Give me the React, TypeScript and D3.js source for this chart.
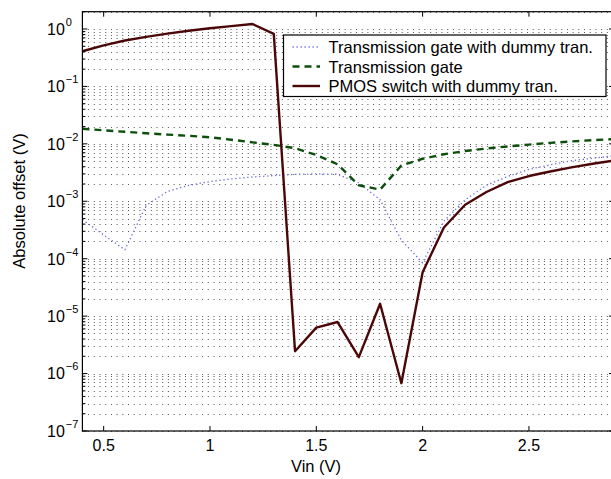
import * as d3 from "d3";

// Vin sweep (V)
const vin = [0.4, 0.5, 0.6, 0.7, 0.8, 0.9, 1.0, 1.1, 1.2, 1.3, 1.4, 1.5, 1.6, 1.7, 1.8, 1.9, 2.0, 2.1, 2.2, 2.3, 2.4, 2.5, 2.6, 2.7, 2.8, 2.9];

// absolute offset (V)
const tgDummy = [4.8e-4, 2.6e-4, 1.43e-4, 8.5e-4, 1.48e-3, 1.9e-3, 2.2e-3, 2.45e-3, 2.65e-3, 2.8e-3, 2.95e-3, 3.0e-3, 2.95e-3, 2.1e-3, 1.06e-3, 2.1e-4, 8.5e-5, 4.5e-4, 1.06e-3, 1.9e-3, 2.7e-3, 3.6e-3, 4.3e-3, 5.1e-3, 5.6e-3, 6.2e-3];
const tg = [0.0183, 0.0172, 0.0162, 0.0153, 0.0145, 0.0138, 0.013, 0.0118, 0.0106, 0.0096, 0.0084, 0.0064, 0.0044, 0.0019, 0.0016, 0.0042, 0.0055, 0.0066, 0.0075, 0.0083, 0.009, 0.0097, 0.0104, 0.011, 0.0116, 0.0121];
const pmos = [0.41, 0.52, 0.63, 0.73, 0.83, 0.93, 1.03, 1.12, 1.22, 0.82, 2.45e-6, 6.3e-6, 7.9e-6, 1.93e-6, 1.64e-5, 6.8e-7, 5.8e-5, 3.5e-4, 8.7e-4, 1.45e-3, 2.15e-3, 2.75e-3, 3.3e-3, 3.9e-3, 4.5e-3, 5.1e-3];

const xTicks = [0.5, 1, 1.5, 2, 2.5];
const yExponents = [-7, -6, -5, -4, -3, -2, -1, 0];
const minorMult = [2, 3, 4, 5, 6, 7, 8, 9];

const seriesNames = ["Transmission gate with dummy tran.", "Transmission gate", "PMOS switch with dummy tran."];

const W = 611;
const H = 479;
const plot = { left: 82.4, right: 614, top: 11.7, bottom: 431 };
const font = "Liberation Sans, Arial, Helvetica, sans-serif";

const styles = [
  { color: "#6a6ad8", width: 1.3, dash: "1.3,2.7" },
  { color: "#0b4f0b", width: 2.4, dash: "7,5" },
  { color: "#4b0707", width: 2.4, dash: null as string | null },
];

export default function App() {
  const x = d3.scaleLinear().domain([0.4, 2.9]).range([plot.left, plot.right]);
  const y = d3.scaleLog().domain([1e-7, 2]).range([plot.bottom, plot.top]);

  const line = d3
    .line<number>()
    .x((_, i) => x(vin[i]))
    .y((d) => y(d));

  const series = [tgDummy, tg, pmos];

  // grid: decades plus the minor values in between
  const gridVals: number[] = [];
  yExponents.forEach((e) => {
    gridVals.push(Math.pow(10, e));
    if (e < 0) minorMult.forEach((m) => gridVals.push(m * Math.pow(10, e)));
  });
  gridVals.push(2);

  const legend = { x: 283.5, y: 35, w: 322.5, h: 61.5 };

  return (
    <div style={{ position: "absolute", left: 0, top: 0 }}>
      <svg width={W} height={H} style={{ display: "block", background: "#fff" }} fontFamily={font}>
        <defs>
          <clipPath id="plotArea">
            <rect x={plot.left} y={plot.top} width={plot.right - plot.left} height={plot.bottom - plot.top} />
          </clipPath>
        </defs>

        {/* grid */}
        <g>
          {gridVals.map((v, i) => (
            <line
              key={i}
              x1={plot.left}
              x2={plot.right}
              y1={Math.round(y(v)) + 0.5}
              y2={Math.round(y(v)) + 0.5}
              stroke="#555"
              strokeWidth={1}
              strokeDasharray="1,4.7"
            />
          ))}
        </g>

        {/* series */}
        <g clipPath="url(#plotArea)">
          {series.map((s, i) => (
            <path
              key={i}
              d={line(s) || ""}
              fill="none"
              stroke={styles[i].color}
              strokeWidth={styles[i].width}
              strokeDasharray={styles[i].dash || undefined}
              strokeLinejoin="round"
            />
          ))}
        </g>

        {/* axes box */}
        <rect
          x={plot.left}
          y={plot.top}
          width={plot.right - plot.left}
          height={plot.bottom - plot.top}
          fill="none"
          stroke="#000"
          strokeWidth={1.2}
        />

        {/* x ticks */}
        {xTicks.map((t) => (
          <g key={t}>
            <line x1={x(t)} x2={x(t)} y1={plot.bottom} y2={plot.bottom - 5} stroke="#000" />
            <line x1={x(t)} x2={x(t)} y1={plot.top} y2={plot.top + 5} stroke="#000" />
            <text x={x(t)} y={451} fontSize={16} textAnchor="middle" fill="#000">
              {t}
            </text>
          </g>
        ))}

        {/* y ticks */}
        {gridVals.map((v, i) => {
          const major = Number.isInteger(Math.log10(v));
          const len = major ? 5 : 3;
          return (
            <g key={i}>
              <line x1={plot.left} x2={plot.left + len} y1={y(v)} y2={y(v)} stroke="#000" />
              <line x1={plot.right} x2={plot.right - len} y1={y(v)} y2={y(v)} stroke="#000" />
            </g>
          );
        })}
        {yExponents.map((e) => (
          <text key={e} x={47} y={y(Math.pow(10, e)) + 5.8} fontSize={16} fill="#000">
            10
            <tspan dy={-9} dx={1} fontSize={11}>
              {e < 0 ? "\u2212" + Math.abs(e) : String(e)}
            </tspan>
          </text>
        ))}

        {/* axis labels */}
        <text x={316} y={472} fontSize={16.5} textAnchor="middle" fill="#000">
          Vin (V)
        </text>
        <text transform="translate(25,201) rotate(-90)" fontSize={16.5} textAnchor="middle" fill="#000">
          Absolute offset (V)
        </text>

        {/* legend */}
        <g>
          <rect x={legend.x} y={legend.y} width={legend.w} height={legend.h} fill="#fff" stroke="#000" strokeWidth={1.2} />
          {seriesNames.map((name, i) => {
            const cy = legend.y + 12 + i * 19.5;
            return (
              <g key={name}>
                <line
                  x1={292.5}
                  x2={320}
                  y1={cy}
                  y2={cy}
                  stroke={styles[i].color}
                  strokeWidth={styles[i].width}
                  strokeDasharray={styles[i].dash || undefined}
                />
                <text x={328.5} y={cy + 6} fontSize={16.5} fill="#000">
                  {name}
                </text>
              </g>
            );
          })}
        </g>
      </svg>
    </div>
  );
}
